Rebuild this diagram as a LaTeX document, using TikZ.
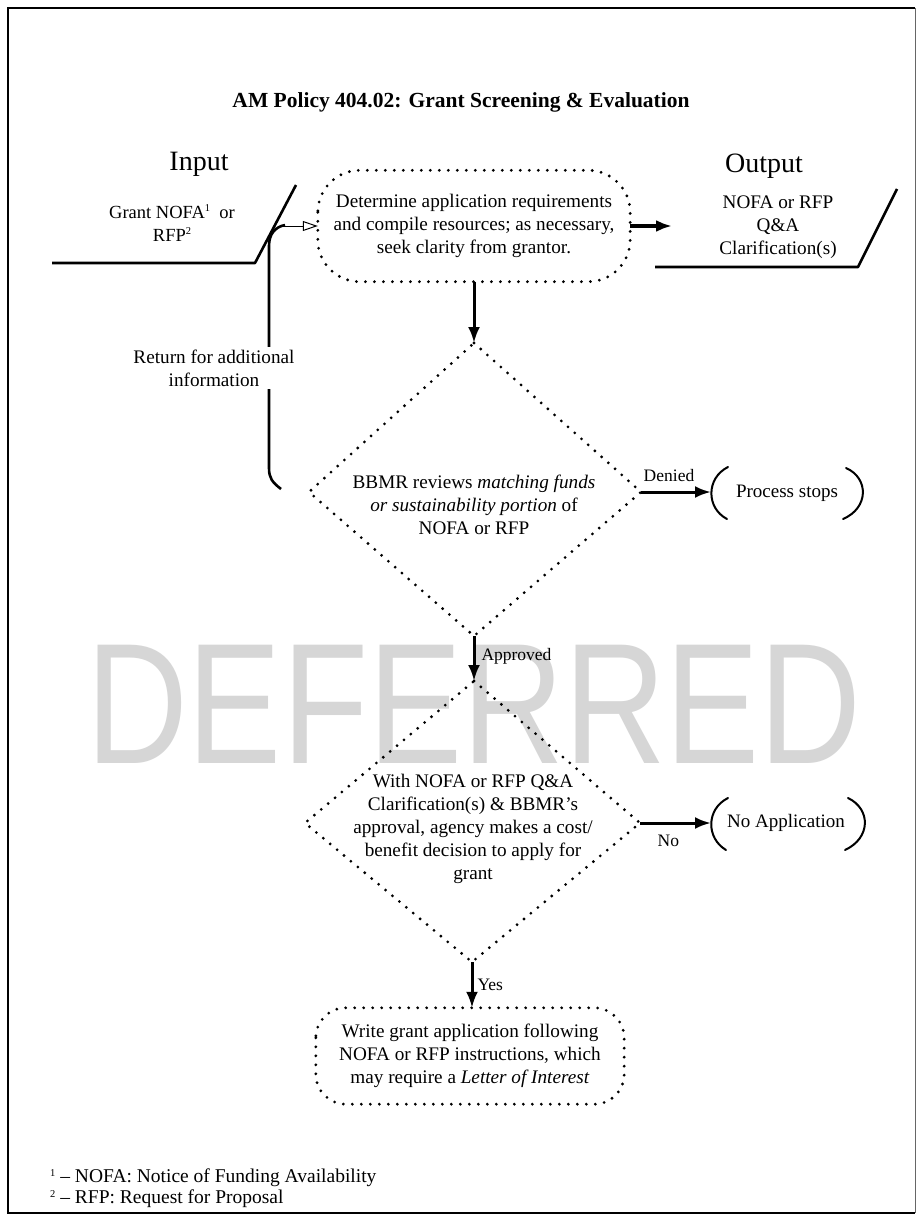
\documentclass[tikz,border=0pt]{standalone}
\usepackage{fontspec}
\usepackage{graphicx}
\setmainfont{Liberation Serif}
\newfontfamily\wmfont{Liberation Sans}
\usetikzlibrary{arrows.meta}
\definecolor{wmgray}{RGB}{214,214,214}
\newcommand{\supmark}[1]{\raisebox{6.5pt}{\fontsize{10.5}{10.5}\selectfont #1}}
\begin{document}
\begin{tikzpicture}[x=1pt,y=-1pt,
  txt/.style={font=\fontsize{19.2}{23}\selectfont, align=center, inner sep=0pt},
  lbl/.style={font=\fontsize{17.5}{20}\selectfont, inner sep=0pt},
  dotline/.style={line width=3.1pt, dash pattern=on 0pt off 9pt, line cap=round},
  flowarrow/.style={line width=3pt, -{Latex[length=16pt,width=12pt]}},
  solidline/.style={line width=2.6pt, line join=round},
  parenline/.style={line width=2pt, line cap=round},
]
\fill[white] (0,0) rectangle (918,1218);
\useasboundingbox (0,0) rectangle (918,1218);
% watermark
\node[text=wmgray, inner sep=0pt] (wm) at (474,704)
  {\wmfont\fontsize{172}{172}\selectfont\scalebox{0.82}[1]{DEFERRED}};
% frame
\draw[line width=2.6pt] (915,8) -- (8,8) -- (8,1213) -- (915,1213);
\draw[line width=1pt, black!60] (915,8) -- (915,1213);
% title
\node[font=\bfseries\fontsize{21.5}{24}\selectfont, inner sep=0pt] (title) at (461,102)
  {AM Policy 404.02: Grant Screening \& Evaluation};
\node[font=\fontsize{28}{30}\selectfont, inner sep=0pt] (inlbl) at (199,164) {Input};
\node[font=\fontsize{28}{30}\selectfont, inner sep=0pt] (outlbl) at (764,166) {Output};
% input data shape
\node[txt, font=\fontsize{18.5}{23}\selectfont] (intxt) at (172,223) {Grant NOFA\supmark{1}\ \ or\\RFP\supmark{2}};
\coordinate (inA) at (52,263);
\coordinate (inB) at (255,263);
\coordinate (inC) at (296,185);
\draw[solidline] (inA) -- (inB) -- (inC);
% output data shape
\node[txt] (outtxt) at (778,227) {NOFA or RFP\\Q\&A\\Clarification(s)};
\coordinate (outA) at (655,267);
\coordinate (outB) at (858,267);
\coordinate (outC) at (897,189);
\coordinate (outW) at (672,226);
\draw[solidline] (outA) -- (outB) -- (outC);
% first process box
\node[txt, minimum width=312pt, minimum height=111pt] (box1) at (474,226)
  {Determine application requirements\\and compile resources; as necessary,\\seek clarity from grantor.};
\draw[dotline, rounded corners=42pt] (box1.north west) rectangle (box1.south east);
% diamond 1
\node[txt] (d1) at (474,505) {BBMR reviews \textit{matching funds}\\\textit{or sustainability portion} of\\NOFA or RFP};
\coordinate (d1t) at (474,343);
\coordinate (d1l) at (309,492);
\coordinate (d1r) at (641,492);
\coordinate (d1b) at (474,636);
\draw[dotline] (d1t) -- (d1r) -- (d1b) -- (d1l) -- cycle;
% process stops
\node[lbl, font=\fontsize{19}{22}\selectfont] (stop1) at (787,493) {Process stops};
\coordinate (stop1w) at (711,492);
\draw[parenline] (728,467) .. controls (706,478) and (706,508) .. (727,519);
\draw[parenline] (846,468) .. controls (869,478) and (869,508) .. (843,519);
% diamond 2
\node[txt] (d2) at (473,829) {With NOFA or RFP Q\&A\\Clarification(s) \& BBMR's\\approval, agency makes a cost/\\benefit decision to apply for\\grant};
\coordinate (d2t) at (474,681);
\coordinate (d2l) at (305,823);
\coordinate (d2r) at (640,823);
\coordinate (d2b) at (472,962);
\draw[dotline] (d2t) -- (d2r) -- (d2b) -- (d2l) -- cycle;
% no application
\node[lbl, font=\fontsize{19}{22}\selectfont] (noapp) at (786,823) {No Application};
\coordinate (noappw) at (711,823);
\draw[parenline] (728,798) .. controls (706,809) and (706,838) .. (726,850);
\draw[parenline] (848,798) .. controls (871,809) and (871,838) .. (845,850);
% final box
\node[txt, minimum width=308pt, minimum height=96pt] (box2) at (470,1056)
  {Write grant application following\\NOFA or RFP instructions, which\\may require a \textit{Letter of Interest}};
\draw[dotline, rounded corners=30pt] (box2.north west) rectangle (box2.south east);
% connectors
\draw[flowarrow, line width=3.5pt] (box1.east) -- (outW);
\draw[flowarrow] (box1.south) -- (d1t);
\draw[flowarrow] (d1r) -- node[lbl, above=9pt, pos=0.4] (denied) {Denied} (stop1w);
\draw[flowarrow] (d1b) -- node[lbl, right=6pt, pos=0.45] (approved) {Approved} (d2t);
\draw[flowarrow] (d2r) -- node[lbl, below=11pt, pos=0.4] (no) {No} (noappw);
\draw[flowarrow] (d2b) -- node[lbl, right=4pt, pos=0.5] (yes) {Yes} (d2b |- box2.north);
% return path
\coordinate (retS) at (281,489);
\coordinate (retE) at (285,225);
\draw[solidline] (retS) .. controls (272,482) and (269,478) .. (269,468)
  -- (269,246) .. controls (269,234) and (275,227) .. (retE);
\node[txt, fill=white, inner sep=3pt] (ret) at (214,368) {Return for additional\\information};
\coordinate (thinS) at (279,226);
\draw[line width=1pt, -{Triangle[open,length=15pt,width=10pt,line width=1pt]}] (thinS) -- (box1.west);
% footnotes
\node[anchor=west, font=\fontsize{19.5}{21}\selectfont, inner sep=0pt] (fn1) at (50,1178)
  {\supmark{1} – NOFA: Notice of Funding Availability};
\node[anchor=west, font=\fontsize{19.5}{21}\selectfont, inner sep=0pt] (fn2) at (50,1199)
  {\supmark{2} – RFP: Request for Proposal};
\end{tikzpicture}
\end{document}
